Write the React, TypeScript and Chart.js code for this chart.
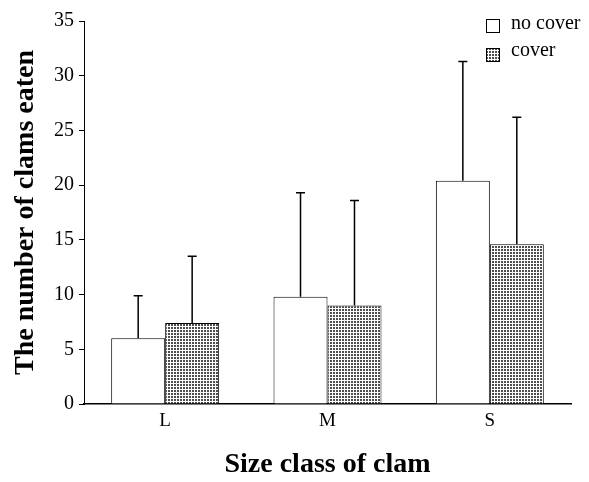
import React, { useEffect, useRef } from "react";
import { Chart, registerables } from "chart.js";

Chart.register(...registerables);

const categories = ["L", "M", "S"];
const seriesLabels = ["no cover", "cover"];
const noCoverMeans = [6.0, 9.8, 20.4];
const noCoverErrors = [3.9, 9.5, 10.9];
const coverMeans = [7.4, 9.0, 14.6];
const coverErrors = [6.1, 9.6, 11.6];
const yTicks = [0, 5, 10, 15, 20, 25, 30, 35];
const xTitle = "Size class of clam";
const yTitle = "The number of clams eaten";

const SERIF = "'Liberation Serif', 'Times New Roman', serif";

function makePattern(): CanvasPattern | string {
  const c = document.createElement("canvas");
  c.width = 3;
  c.height = 3;
  const g = c.getContext("2d");
  if (!g) return "#999";
  g.fillStyle = "#ffffff";
  g.fillRect(0, 0, 3, 3);
  g.fillStyle = "#4d4d4d";
  g.fillRect(0, 0, 2, 2);
  return g.createPattern(c, "repeat") || "#999";
}

export default function App() {
  const ref = useRef<HTMLCanvasElement | null>(null);

  useEffect(() => {
    if (!ref.current) return;
    const pattern = makePattern();
    const errors = [noCoverErrors, coverErrors];

    const errorBarPlugin = {
      id: "errorBars",
      afterDatasetsDraw(chart: any) {
        const ctx = chart.ctx;
        const yScale = chart.scales.y;
        chart.data.datasets.forEach((ds: any, di: number) => {
          const meta = chart.getDatasetMeta(di);
          meta.data.forEach((bar: any, i: number) => {
            const v = ds.data[i] as number;
            const top = yScale.getPixelForValue(v + errors[di][i]);
            const x = bar.x;
            ctx.save();
            ctx.strokeStyle = "#000";
            ctx.lineWidth = 1.5;
            ctx.beginPath();
            ctx.moveTo(x, bar.y);
            ctx.lineTo(x, top);
            ctx.moveTo(x - 4.5, top);
            ctx.lineTo(x + 4.5, top);
            ctx.stroke();
            ctx.restore();
          });
        });
      },
    };

    const legendPlugin = {
      id: "boxLegend",
      afterDraw(chart: any) {
        const ctx = chart.ctx;
        const area = chart.chartArea;
        const x0 = area.right - 85;
        const fills = ["#ffffff", pattern];
        seriesLabels.forEach((label, i) => {
          const y = area.top - 2 + i * 29;
          ctx.save();
          ctx.fillStyle = fills[i];
          ctx.fillRect(x0, y, 14, 14);
          ctx.strokeStyle = "#000";
          ctx.lineWidth = 1;
          ctx.strokeRect(x0 + 0.5, y + 0.5, 13, 13);
          ctx.fillStyle = "#000";
          ctx.font = `20px ${SERIF}`;
          ctx.textBaseline = "alphabetic";
          ctx.textAlign = "left";
          ctx.fillText(label, x0 + 25, y + 10 - 2 * i);
          ctx.restore();
        });
      },
    };

    const chart = new Chart(ref.current, {
      type: "bar",
      data: {
        labels: categories,
        datasets: [
          {
            label: seriesLabels[0],
            data: noCoverMeans,
            backgroundColor: "#ffffff",
            borderColor: "#000",
            borderWidth: 1,
            categoryPercentage: 0.665,
            barPercentage: 1.0,
          },
          {
            label: seriesLabels[1],
            data: coverMeans,
            backgroundColor: pattern as any,
            borderColor: "#000",
            borderWidth: 1,
            categoryPercentage: 0.665,
            barPercentage: 1.0,
          },
        ],
      },
      options: {
        animation: false,
        responsive: false,
        maintainAspectRatio: false,
        layout: { padding: { top: 21, right: 18, left: 0, bottom: 0 } },
        plugins: {
          legend: { display: false },
          tooltip: { enabled: false },
        },
        scales: {
          x: {
            grid: { display: true, drawOnChartArea: false, drawTicks: false },
            border: { display: true, color: "#000", width: 1.5 },
            ticks: {
              color: "#000",
              font: { family: SERIF, size: 19 },
              padding: 6,
            },
            title: {
              display: true,
              text: xTitle,
              color: "#000",
              font: { family: SERIF, size: 28, weight: "bold" },
              padding: { top: 0, bottom: 0 },
            },
            afterFit(scale: any) {
              scale.height = 78;
            },
          },
          y: {
            min: 0,
            max: 35,
            afterBuildTicks(scale: any) {
              scale.ticks = yTicks.map((v) => ({ value: v }));
            },
            grid: {
              display: true,
              drawOnChartArea: false,
              drawTicks: true,
              tickLength: 5,
              color: "#000",
            },
            border: { display: true, color: "#000", width: 1 },
            ticks: {
              color: "#000",
              font: { family: SERIF, size: 20 },
              padding: 5,
            },
            title: {
              display: true,
              text: yTitle,
              color: "#000",
              font: { family: SERIF, size: 28, weight: "bold" },
              padding: { top: 9, bottom: 0 },
            },
            afterFit(scale: any) {
              scale.width = 84;
            },
          },
        },
      },
      plugins: [errorBarPlugin, legendPlugin],
    });

    return () => chart.destroy();
  }, []);

  return (
    <div
      style={{
        position: "absolute",
        left: 0,
        top: 0,
        width: 589,
        height: 482,
        background: "#fff",
      }}
    >
      <canvas ref={ref} width={589} height={482} style={{ display: "block" }} />
    </div>
  );
}
